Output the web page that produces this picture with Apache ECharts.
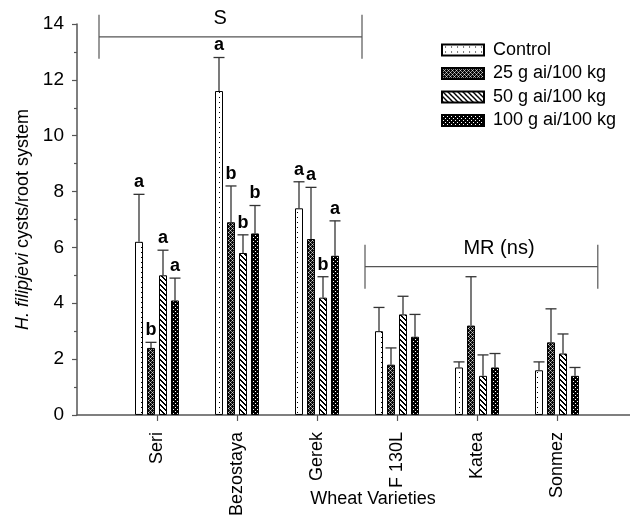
<!DOCTYPE html>
<html>
<head>
<meta charset="utf-8">
<script src="https://cdn.jsdelivr.net/npm/echarts@6/dist/echarts.min.js"></script>
<style>
html,body{margin:0;padding:0;background:#fff;}
#chart{width:630px;height:519px;}
</style>
</head>
<body>
<div id="chart"></div>
<script>
// ---- data ----
const categories = ['Seri', 'Bezostaya', 'Gerek', 'F 130L', 'Katea', 'Sonmez'];
const treatments = ['Control', '25 g ai/100 kg', '50 g ai/100 kg', '100 g ai/100 kg'];
const control = [6.2, 11.6, 7.4, 3.0, 1.7, 1.6];
const g25 = [2.4, 6.9, 6.3, 1.8, 3.2, 2.6];
const g50 = [5.0, 5.8, 4.2, 3.6, 1.4, 2.2];
const g100 = [4.1, 6.5, 5.7, 2.8, 1.7, 1.4];
const controlErr = [1.7, 1.2, 0.95, 0.85, 0.2, 0.3];
const g25Err = [0.2, 1.3, 1.85, 0.6, 1.75, 1.2];
const g50Err = [0.9, 0.65, 0.75, 0.65, 0.75, 0.7];
const g100Err = [0.8, 1.0, 1.25, 0.8, 0.5, 0.3];
const controlLetters = ['a', 'a', 'a', '', '', ''];
const g25Letters = ['b', 'b', 'a', '', '', ''];
const g50Letters = ['a', 'b', 'b', '', '', ''];
const g100Letters = ['a', 'b', 'a', '', '', ''];
const yTicks = [0, 2, 4, 6, 8, 10, 12, 14];
// group brackets: [fromPos, toPos, level, label, labelPos]
const bracketFrom = [0.275, 3.60];
const bracketTo = [3.5625, 6.51];
const bracketLevel = [13.54, 5.31];
const bracketLabel = ['S', 'MR (ns)'];
const bracketLabelPos = [1.79, 5.275];

const means = [control, g25, g50, g100];
const errs = [controlErr, g25Err, g50Err, g100Err];
const letters = [controlLetters, g25Letters, g50Letters, g100Letters];

const FONT = '"Liberation Sans", Arial, Helvetica, sans-serif';

// ---- fill patterns ----
function tile(w, h, bg, pts, fg, pts2, fg2) {
  const c = document.createElement('canvas');
  c.width = w; c.height = h;
  const ctx = c.getContext('2d');
  ctx.fillStyle = bg; ctx.fillRect(0, 0, w, h);
  ctx.fillStyle = fg;
  pts.forEach(p => ctx.fillRect(p[0], p[1], 1, 1));
  if (pts2) { ctx.fillStyle = fg2; pts2.forEach(p => ctx.fillRect(p[0], p[1], 1, 1)); }
  return { image: c, repeat: 'repeat' };
}
const patterns = [
  tile(6, 5, '#ffffff', [[3, 2]], '#000000'),
  tile(4, 4, '#080808', [[1, 1], [3, 3], [1, 3], [3, 1]], '#8a8a8a', [[0, 0], [2, 2]], '#d0d0d0'),
  tile(5, 5, '#ffffff', [[0, 0], [1, 1], [2, 2], [3, 3], [4, 4], [1, 0], [2, 1], [3, 2], [4, 3], [0, 4]], '#000000'),
  tile(4, 4, '#000000', [[1, 1], [3, 3]], '#ffffff')
];

const series = [];
treatments.forEach((name, t) => {
  series.push({
    name: name,
    type: 'bar',
    barWidth: 8,
    barGap: '50%',
    data: categories.map((c, i) => [i + 1, means[t][i]]),
    itemStyle: { color: patterns[t], borderColor: '#000', borderWidth: 1 },
    z: 2
  });
});
treatments.forEach((name, t) => {
  series.push({
    name: 'err-' + t,
    type: 'custom',
    z: 3,
    data: categories.map((c, i) => [i + 1, means[t][i], errs[t][i]]),
    encode: { x: 0, y: 1 },
    renderItem: function (params, api) {
      const pos = api.value(0), m = api.value(1), e = api.value(2);
      const b = api.coord([pos, m]);
      const tp = api.coord([pos, m + e]);
      const x = b[0] + (t - 1.5) * 12;
      const ls = { stroke: '#333', lineWidth: 1.3 };
      return {
        type: 'group',
        children: [
          { type: 'line', shape: { x1: x, y1: b[1], x2: x, y2: tp[1] }, style: ls },
          { type: 'line', shape: { x1: x - 5.5, y1: tp[1], x2: x + 5.5, y2: tp[1] }, style: ls },
          { type: 'text', x: x, y: tp[1] - 3,
            style: { text: letters[t][params.dataIndex], fill: '#000', font: 'bold 18px ' + FONT,
                     align: 'center', verticalAlign: 'bottom' } }
        ]
      };
    }
  });
});
series.push({
  name: 'brackets',
  type: 'custom',
  z: 4,
  data: bracketLabel.map((l, i) => [bracketFrom[i], bracketTo[i], bracketLevel[i], bracketLabelPos[i]]),
  encode: { x: [0, 1], y: 2 },
  renderItem: function (params, api) {
    const a = api.coord([api.value(0), api.value(2)]);
    const b = api.coord([api.value(1), api.value(2)]);
    const lp = api.coord([api.value(3), api.value(2)]);
    const ls = { stroke: '#555', lineWidth: 1.2 };
    const i = params.dataIndex;
    return {
      type: 'group',
      children: [
        { type: 'line', shape: { x1: a[0], y1: a[1], x2: b[0], y2: b[1] }, style: ls },
        { type: 'line', shape: { x1: a[0], y1: a[1] - 22, x2: a[0], y2: a[1] + 22 }, style: ls },
        { type: 'line', shape: { x1: b[0], y1: b[1] - 22, x2: b[0], y2: b[1] + 22 }, style: ls },
        { type: 'text', x: lp[0], y: lp[1] - 8,
          style: { text: bracketLabel[i], fill: '#000', font: '20px ' + FONT, align: 'center', verticalAlign: 'bottom' } }
      ]
    };
  }
});

const chart = echarts.init(document.getElementById('chart'), null, { renderer: 'canvas' });
chart.setOption({
  animation: false,
  backgroundColor: '#fff',
  textStyle: { fontFamily: FONT },
  grid: { left: 77, right: 0, top: 24, bottom: 104, containLabel: false },
  legend: {
    data: treatments,
    orient: 'vertical',
    left: 441,
    top: 41,
    padding: 0,
    icon: 'rect',
    itemWidth: 42,
    itemHeight: 11,
    itemGap: 5.5,
    textStyle: { fontSize: 18, color: '#000', fontFamily: FONT, lineHeight: 18, padding: [0, 0, 0, 4] },
    selectedMode: false
  },
  xAxis: {
    type: 'value',
    min: 0,
    max: 6.9125,
    interval: 1,
    splitLine: { show: false },
    axisLine: { lineStyle: { color: '#555', width: 1.5 } },
    axisTick: { show: true, customValues: [1, 2, 3, 4, 5, 6], length: 6, lineStyle: { color: '#555', width: 1.2 } },
    axisLabel: {
      customValues: [1, 2, 3, 4, 5, 6],
      rotate: 90,
      margin: 17,
      fontSize: 18,
      color: '#000',
      fontFamily: FONT,
      formatter: v => categories[Math.round(v) - 1] || ''
    }
  },
  yAxis: {
    type: 'value',
    min: 0,
    max: 14,
    interval: 2,
    splitLine: { show: false },
    axisLine: { show: true, lineStyle: { color: '#555', width: 1.5 } },
    axisTick: { show: true, length: 5, lineStyle: { color: '#555', width: 1.2 } },
    minorTick: { show: true, splitNumber: 2, length: 3, lineStyle: { color: '#555', width: 1.2 } },
    axisLabel: { margin: 13, fontSize: 19, color: '#000', fontFamily: FONT,
                 customValues: yTicks },
    name: '{i|H. filipjevi} cysts/root system',
    nameLocation: 'middle',
    nameRotate: 90,
    nameGap: 42,
    nameTextStyle: {
      fontSize: 18, color: '#000', fontFamily: FONT,
      rich: { i: { fontSize: 18, fontStyle: 'italic', color: '#000', fontFamily: FONT } }
    }
  },
  graphic: [{
    type: 'text', x: 373, y: 499,
    style: { text: 'Wheat Varieties', font: '18px ' + FONT, fill: '#000', align: 'center', verticalAlign: 'middle' }
  }],
  series: series
});
</script>
</body>
</html>
